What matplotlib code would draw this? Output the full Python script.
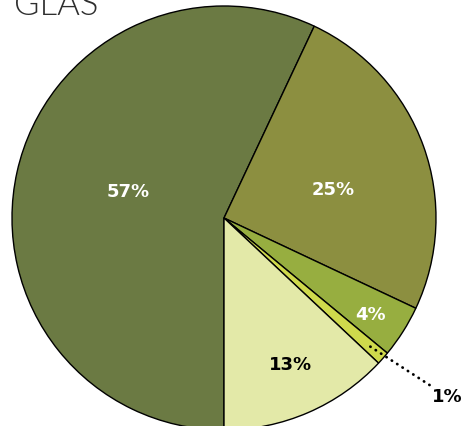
import numpy as np
import matplotlib.pyplot as plt

title = "GLAS"
labels = ["57%", "25%", "4%", "1%", "13%"]
values = [57, 25, 4, 1, 13]
colors = ["#6b7a43", "#8c8f40", "#97ae40", "#cfd94c", "#e3e9a8"]
label_colors = ["white", "white", "white", "black", "black"]
# label distance from centre (radius units) and angle nudge (degrees)
label_dist = [0.467, 0.531, 0.827, None, 0.763]
label_nudge = [-2.9, -5.15, -1.2, 0, 0.9]

fig = plt.figure(figsize=(4.65, 4.26), dpi=100)
ax = fig.add_axes([0, 0, 1, 1])

wedges, _ = ax.pie(values, colors=colors, startangle=-90, counterclock=False,
                   wedgeprops=dict(edgecolor="black", linewidth=1))

for w, lab, c, d, nd in zip(wedges, labels, label_colors, label_dist, label_nudge):
    mid = np.deg2rad((w.theta1 + w.theta2) / 2 + nd)
    if d is None:
        # small slice: dotted leader out to the label
        p0 = (0.91 * np.cos(mid), 0.91 * np.sin(mid))
        p1 = (1.29 * np.cos(mid), 1.29 * np.sin(mid))
        ax.annotate(lab, xy=p0, xytext=(p1[0] + 0.015, p1[1] + 0.01),
                    ha="left", va="center", fontsize=13, fontweight="bold",
                    color=c, family="DejaVu Sans",
                    arrowprops=dict(arrowstyle="-", linestyle=(0, (0.1, 2.2)),
                                    linewidth=2, color="black", capstyle="round",
                                    shrinkA=0, shrinkB=0))
    else:
        ax.text(d * np.cos(mid), d * np.sin(mid), lab, ha="center", va="center",
                fontsize=13, fontweight="bold", color=c, family="DejaVu Sans")

# place pie: centre at (224, 218) px, radius 212 px
W, H, cx, cy, r = 465, 426, 224, 218, 212
ax.set_xlim(-cx / r, (W - cx) / r)
ax.set_ylim((cy - H) / r, cy / r)
ax.set_aspect("auto")
ax.axis("off")

fig.text(14 / W, 1 - 15 / H, title, ha="left", va="baseline", fontsize=25,
         fontweight=300, color="#2e2e2e", family="Lato")

fig.savefig("out.png", dpi=100)
